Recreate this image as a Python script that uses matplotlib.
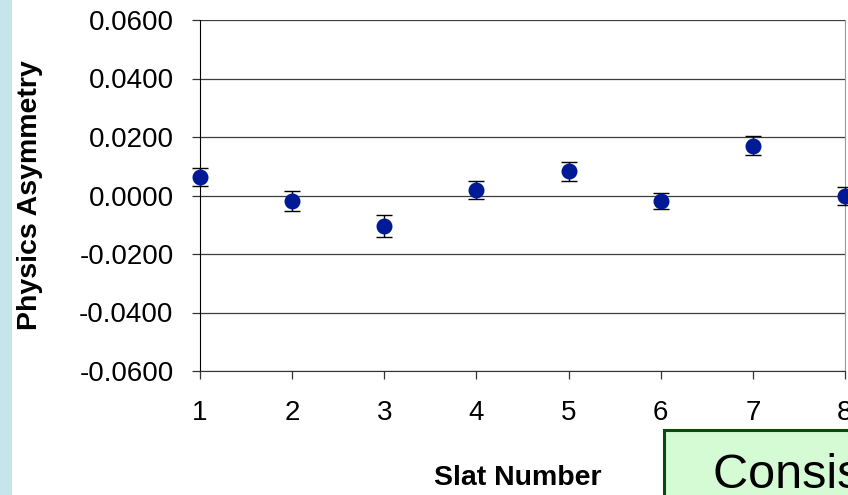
import matplotlib.pyplot as plt
from matplotlib.patches import Rectangle

# Slat asymmetry data
slats = [1, 2, 3, 4, 5, 6, 7, 8]
asym = [0.0064, -0.0019, -0.0105, 0.0019, 0.0083, -0.0019, 0.0170, -0.0002]
asym_err = [0.0031, 0.0034, 0.0038, 0.0031, 0.0033, 0.0028, 0.0032, 0.0030]
y_ticks = [-0.06, -0.04, -0.02, 0.0, 0.02, 0.04, 0.06]


def main():
    plt.rcParams['font.family'] = ['Liberation Sans', 'DejaVu Sans']

    fig = plt.figure(figsize=(8.48, 4.95), dpi=100)

    # Light blue strip on the left edge
    fig.patches.append(Rectangle((0, 0), 12 / 848, 1, transform=fig.transFigure,
                                 facecolor='#c6e5ea', edgecolor='none', zorder=0))

    ax = fig.add_axes([200 / 848, 124 / 495, 645 / 848, 351 / 495])

    ax.errorbar(slats, asym, yerr=asym_err, fmt='o', color='#001a96',
                markersize=10.5, ecolor='black', elinewidth=1, capsize=5.5,
                capthick=1, clip_on=False, zorder=3)

    ax.set_xlim(1, 8)
    ax.set_ylim(-0.06, 0.06)
    ax.set_xticks(slats)
    ax.set_yticks(y_ticks)
    ax.set_yticklabels([f'{v:.4f}' for v in y_ticks])
    ax.grid(axis='y', color='#3c3c3c', linewidth=0.9)
    ax.set_axisbelow(True)

    ax.tick_params(axis='both', labelsize=20, direction='out', length=6,
                   width=0.9, color='#333333')
    ax.tick_params(axis='y', pad=13)
    ax.tick_params(axis='x', pad=15)

    ax.spines['top'].set_visible(False)
    ax.spines['right'].set_color('#999999')
    ax.spines['left'].set_color('black')
    ax.spines['bottom'].set_color('#333333')

    fig.text(30 / 848, 1 - 195 / 495, 'Physics Asymmetry', rotation=90,
             fontsize=20.5, fontweight='bold', ha='center', va='center')
    fig.text(518 / 848, 1 - 478 / 495, 'Slat Number', fontsize=20.5,
             fontweight='bold', ha='center', va='center')

    # Green note box in the bottom-right corner
    fig.patches.append(Rectangle((664 / 848, -0.05), 0.3, 65 / 495 + 0.05,
                                 transform=fig.transFigure, facecolor='#d4fbd4',
                                 edgecolor='#0b4a0b', linewidth=2.2, zorder=5))
    fig.text(713 / 848, 7 / 495, 'Consistent with zero', fontsize=35,
             ha='left', va='baseline', zorder=6)

    fig.savefig('out.png', dpi=100)
    plt.close()


if __name__ == "__main__":
    main()
